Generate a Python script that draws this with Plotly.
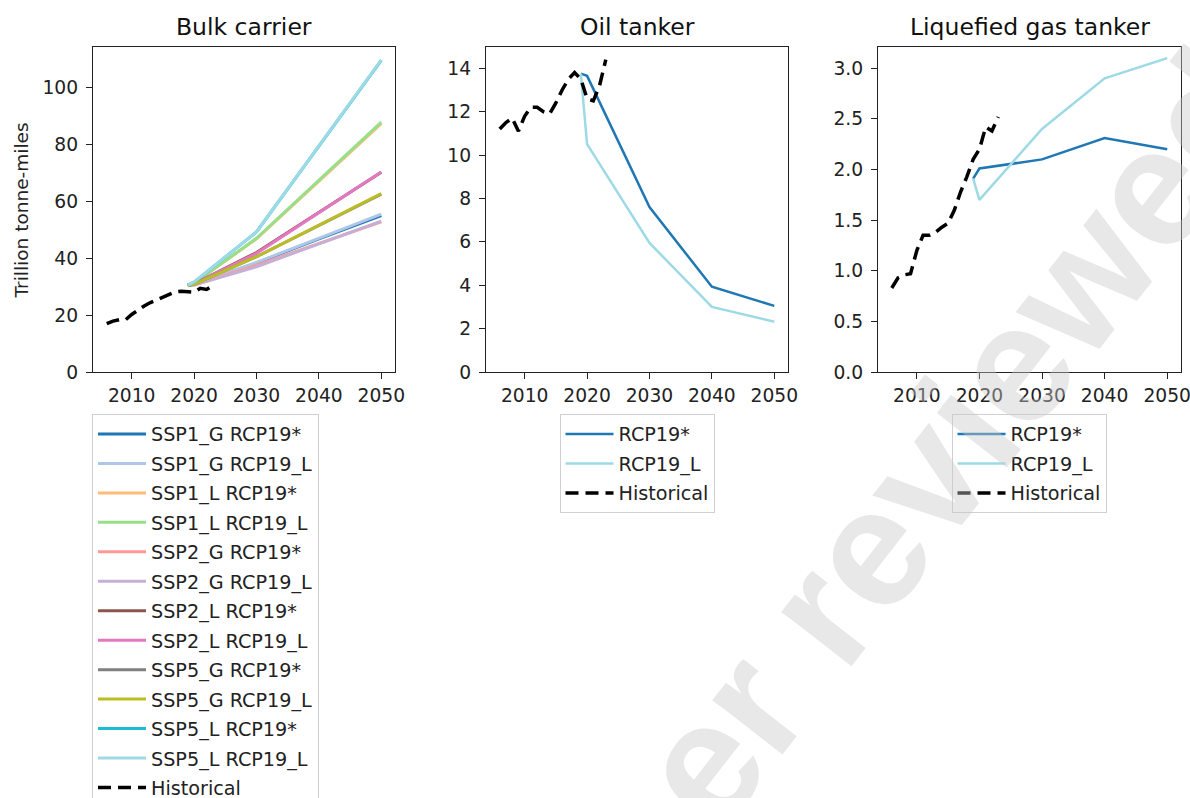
import plotly.graph_objects as go

# ---------------- data ----------------
hist_years = list(range(2006, 2024))
bulk_hist = [17.0, 17.9, 18.4, 18.3, 20.2, 21.8, 23.2, 24.4, 25.4, 26.3, 27.3, 28.2, 28.4, 28.3, 28.0, 29.4, 29.0, 30.4]
oil_hist = [11.2, 11.5, 11.7, 11.1, 11.8, 12.2, 12.2, 12.0, 11.9, 12.4, 13.0, 13.5, 13.8, 13.5, 12.6, 12.5, 13.2, 14.4]
gas_hist = [0.83, 0.93, 0.96, 0.97, 1.20, 1.35, 1.35, 1.38, 1.43, 1.47, 1.60, 1.78, 1.93, 2.10, 2.20, 2.42, 2.38, 2.52]

proj_years = [2019, 2020, 2030, 2040, 2050]

bulk_names = ["SSP1_G RCP19*", "SSP1_G RCP19_L", "SSP1_L RCP19*", "SSP1_L RCP19_L",
              "SSP2_G RCP19*", "SSP2_G RCP19_L", "SSP2_L RCP19*", "SSP2_L RCP19_L",
              "SSP5_G RCP19*", "SSP5_G RCP19_L", "SSP5_L RCP19*", "SSP5_L RCP19_L"]
bulk_values = [
    [30.5, 30.8, 38.3, 46.8, 55.0],
    [30.5, 30.8, 38.5, 47.0, 55.5],
    [30.5, 31.2, 46.8, 67.0, 87.3],
    [30.5, 31.2, 47.0, 67.5, 87.8],
    [30.5, 30.6, 37.5, 45.2, 52.8],
    [30.5, 30.6, 37.0, 45.0, 53.0],
    [30.5, 31.0, 42.0, 56.0, 70.2],
    [30.5, 31.0, 41.7, 56.0, 70.3],
    [30.5, 30.8, 40.5, 51.5, 62.5],
    [30.5, 30.8, 40.5, 51.6, 62.7],
    [30.5, 31.6, 49.2, 79.5, 109.5],
    [30.5, 31.6, 49.2, 79.5, 109.7],
]
bulk_colors = ["#1f77b4", "#aec7e8", "#ffbb78", "#98df8a", "#ff9896", "#c5b0d5",
               "#8c564b", "#e377c2", "#7f7f7f", "#bcbd22", "#17becf", "#9edae5"]

rcp_names = ["RCP19*", "RCP19_L"]
rcp_colors = ["#1f77b4", "#9edae5"]
oil_values = [
    [13.75, 13.65, 7.6, 3.93, 3.05],
    [13.75, 10.5, 5.95, 3.0, 2.32],
]
gas_values = [
    [1.91, 2.01, 2.10, 2.31, 2.20],
    [1.91, 1.70, 2.40, 2.90, 3.10],
]

titles = ["Bulk carrier", "Oil tanker", "Liquefied gas tanker"]
x_ticks = [2010, 2020, 2030, 2040, 2050]
y_ticks = [[0, 20, 40, 60, 80, 100], [0, 2, 4, 6, 8, 10, 12, 14], [0.0, 0.5, 1.0, 1.5, 2.0, 2.5, 3.0]]
y_ranges = [[0, 114.2], [0, 14.98], [0, 3.21]]

# ---------------- figure ----------------
W, H = 1190, 798
FONT = "DejaVu Sans"
TXT = "#222222"

fig = go.Figure()

def add_hist(xa, ya, vals, leg):
    fig.add_trace(go.Scatter(x=hist_years, y=vals, mode="lines", name="Historical",
                             xaxis=xa, yaxis=ya, legend=leg, legendgroup=leg + "hist",
                             line=dict(color="black", width=3.5, dash="13px,7px")))

for name, vals, col in zip(bulk_names, bulk_values, bulk_colors):
    fig.add_trace(go.Scatter(x=proj_years, y=vals, mode="lines", name=name,
                             xaxis="x", yaxis="y", legend="legend", legendgroup=name,
                             line=dict(color=col, width=3)))
add_hist("x", "y", bulk_hist, "legend")

for name, vals, col in zip(rcp_names, oil_values, rcp_colors):
    fig.add_trace(go.Scatter(x=proj_years, y=vals, mode="lines", name=name,
                             xaxis="x2", yaxis="y2", legend="legend2", legendgroup="o" + name,
                             line=dict(color=col, width=2.5)))
add_hist("x2", "y2", oil_hist, "legend2")

for name, vals, col in zip(rcp_names, gas_values, rcp_colors):
    fig.add_trace(go.Scatter(x=proj_years, y=vals, mode="lines", name=name,
                             xaxis="x3", yaxis="y3", legend="legend3", legendgroup="g" + name,
                             line=dict(color=col, width=2.5)))
add_hist("x3", "y3", gas_hist, "legend3")

px_domains = [(93, 395), (486, 788), (878, 1181)]
ydom = [1 - 372 / H, 1 - 47 / H]

axis_common = dict(showline=True, linecolor="#222", linewidth=1.3, mirror=True,
                   ticks="outside", ticklen=6, tickwidth=1.3, tickcolor="#222",
                   showgrid=False, zeroline=False, ticklabeloverflow="allow",
                   tickfont=dict(family=FONT, size=18.7, color=TXT))

layout = dict(width=W, height=H, margin=dict(l=0, r=0, t=0, b=0, autoexpand=False),
              paper_bgcolor="white", plot_bgcolor="white",
              font=dict(family=FONT, size=18.7, color=TXT))

annotations = []
for i in range(3):
    sfx = "" if i == 0 else str(i + 1)
    x0, x1 = px_domains[i]
    layout["xaxis" + sfx] = dict(axis_common, domain=[x0 / W, x1 / W], range=[2003.8, 2052.2],
                                 tickvals=x_ticks, anchor="y" + sfx)
    layout["yaxis" + sfx] = dict(axis_common, domain=ydom, range=y_ranges[i],
                                 tickvals=y_ticks[i], anchor="x" + sfx, ticklabelstandoff=4,
                                 tickformat=".1f" if i == 2 else "d")
    annotations.append(dict(text=titles[i], x=(x0 + x1) / 2 / W, y=1 - 27 / H,
                            xref="paper", yref="paper", showarrow=False,
                            xanchor="center", yanchor="middle",
                            font=dict(family=FONT, size=23.5, color="#111")))

annotations.append(dict(text="Trillion tonne-miles", x=21 / W, y=1 - 210.5 / H,
                        xref="paper", yref="paper", showarrow=False, textangle=-90,
                        xanchor="center", yanchor="middle",
                        font=dict(family=FONT, size=18.5, color=TXT)))

# watermark
annotations.append(dict(text="<b>peer reviewed</b>", x=896 / W, y=1 - 515 / H,
                        xref="paper", yref="paper", showarrow=False, textangle=-52,
                        xanchor="center", yanchor="middle",
                        font=dict(family="Liberation Sans", size=168, color="rgba(200,200,200,0.42)")))

layout["annotations"] = annotations

leg_common = dict(bgcolor="rgba(255,255,255,0.85)", bordercolor="#d0d0d0", borderwidth=1,
                  font=dict(family=FONT, size=19.2, color=TXT), tracegroupgap=1.5,
                  itemwidth=48, yanchor="top", y=1 - 414 / H)
layout["legend"] = dict(leg_common, x=92 / W, xanchor="left")
layout["legend2"] = dict(leg_common, x=637 / W, xanchor="center")
layout["legend3"] = dict(leg_common, x=1029 / W, xanchor="center")
layout["showlegend"] = True

fig.update_layout(**layout)
fig.write_html("out.html")
